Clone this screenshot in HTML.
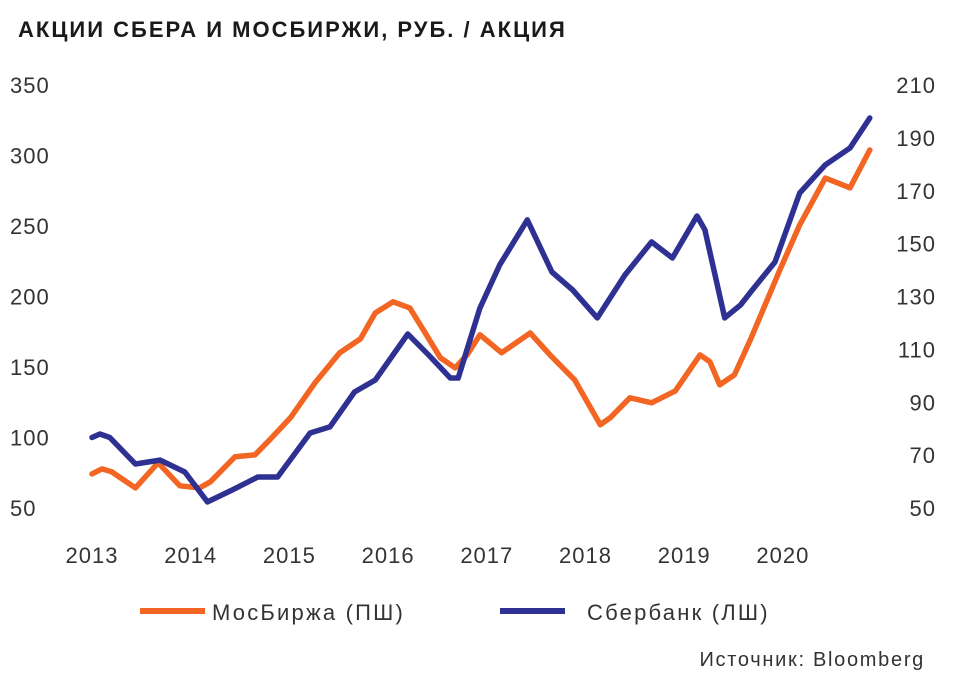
<!DOCTYPE html>
<html><head><meta charset="utf-8"><style>
body{margin:0;background:#fff;}
svg text{font-family:"Liberation Sans",sans-serif;}
</style></head><body>
<svg width="955" height="684" viewBox="0 0 955 684">
<text x="18" y="37" font-size="22" font-weight="bold" fill="#1a1a1a" letter-spacing="2">АКЦИИ СБЕРА И МОСБИРЖИ, РУБ. / АКЦИЯ</text>
<g id="ticks"></g>
<g id="lines"></g>
<g>
<line x1="140" y1="611" x2="205" y2="611" stroke="#f26522" stroke-width="6"/>
<text x="212" y="620" font-size="22" fill="#333" letter-spacing="2.2">МосБиржа (ПШ)</text>
<line x1="500" y1="611" x2="565" y2="611" stroke="#2e3192" stroke-width="6"/>
<text x="587" y="620" font-size="22" fill="#333" letter-spacing="2.2">Сбербанк (ЛШ)</text>
</g>
<text x="925" y="666" font-size="20" fill="#333" text-anchor="end" letter-spacing="1.7">Источник: Bloomberg</text>
</svg>
<script>
const leftTicks=[50,100,150,200,250,300,350];
const rightTicks=[50,70,90,110,130,150,170,190,210];
const xTicks=[2013,2014,2015,2016,2017,2018,2019,2020];
const sberYears=[2013.00,2013.08,2013.18,2013.44,2013.69,2013.94,2014.17,2014.42,2014.68,2014.88,2015.21,2015.41,2015.66,2015.87,2016.20,2016.42,2016.63,2016.71,2016.93,2017.13,2017.41,2017.66,2017.87,2018.12,2018.40,2018.67,2018.88,2019.13,2019.21,2019.41,2019.57,2019.69,2019.92,2020.17,2020.43,2020.68,2020.88];
const sberValues=[100,102.5,100,81.2,84,75.5,54.3,62.8,72,72,103.2,107.5,132.3,140.8,173.4,157.8,142.2,142.2,191.8,222.3,254.3,217.4,204.6,184.8,215.3,238.7,227.3,257.1,247.2,184.8,194,204.6,224.5,273.4,293.3,305.3,326.6];
const moexYears=[2013.00,2013.10,2013.20,2013.44,2013.67,2013.89,2014.09,2014.20,2014.45,2014.65,2014.80,2015.01,2015.26,2015.51,2015.72,2015.87,2016.05,2016.22,2016.37,2016.53,2016.68,2016.80,2016.93,2017.15,2017.44,2017.64,2017.89,2018.15,2018.25,2018.45,2018.67,2018.91,2019.16,2019.26,2019.36,2019.51,2019.67,2019.97,2020.17,2020.43,2020.68,2020.88];
const moexValues=[62.9,64.8,63.7,57.6,67.1,58.4,57.6,59.9,69.4,70.1,75.8,84.1,97.4,108.7,114,123.8,128,125.7,116.6,106.8,103,107.9,115.5,108.7,116.2,107.9,98.5,81.5,84.1,91.7,89.8,94.3,107.9,105.3,96.6,100.4,113.6,140.1,157.1,174.8,171.1,185.4];

const NS="http://www.w3.org/2000/svg";
const xS=y=>92+(y-2013)*98.7;
const yL=v=>508-(v-50)*(423/300);
const yR=v=>508-(v-50)*(423/160);
const tg=document.getElementById('ticks'), lg=document.getElementById('lines');
function txt(x,y,s,anchor){const t=document.createElementNS(NS,'text');t.setAttribute('x',x);t.setAttribute('y',y);t.setAttribute('font-size','22');t.setAttribute('fill','#333');t.setAttribute('letter-spacing','1');t.setAttribute('text-anchor',anchor);t.textContent=s;tg.appendChild(t);return t;}
leftTicks.forEach(v=>{const t=txt(10,yL(v)+8,v,'start');

});
rightTicks.forEach(v=>{const t=txt(936,yR(v)+8,v,'end');

});
xTicks.forEach(v=>{const t=txt(xS(v),563,v,'middle');

});
function line(xs,vs,yf,color){const p=document.createElementNS(NS,'polyline');
p.setAttribute('points',xs.map((x,i)=>xS(x).toFixed(1)+','+yf(vs[i]).toFixed(1)).join(' '));
p.setAttribute('fill','none');p.setAttribute('stroke',color);p.setAttribute('stroke-width','5.5');p.setAttribute('stroke-linejoin','round');p.setAttribute('stroke-linecap','round');lg.appendChild(p);return p;}
const m=line(moexYears,moexValues,yR,'#f26522');


const s=line(sberYears,sberValues,yL,'#2e3192');


</script>
</body></html>
